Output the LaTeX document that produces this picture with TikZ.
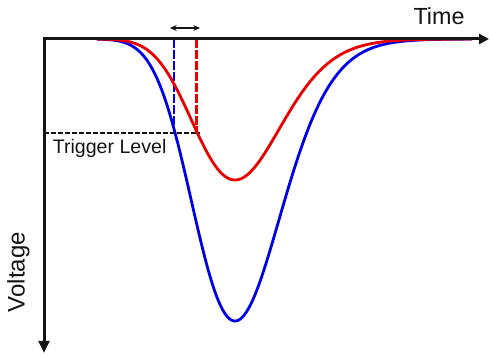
\documentclass[tikz,border=0pt]{standalone}
\usepackage{fontspec}
\setmainfont{Liberation Sans}
\usetikzlibrary{arrows.meta}
\definecolor{pulsered}{RGB}{232,0,0}
\definecolor{pulseblue}{RGB}{0,0,232}
\definecolor{ink}{RGB}{20,20,20}

\begin{document}
\begin{tikzpicture}[x=0.75pt, y=-0.75pt, line join=round,
    declare function={sig(\u)=0.44+0.06*\u;
                      pulse(\u,\a)=\a*exp(-(\u*\u)/(2*sig(\u)*sig(\u)));},
    axis/.style={ink, line width=2.25pt, line join=miter},
    curve/.style={line width=2.1pt},
    marker/.style={line width=2.2pt, dash pattern=on 7pt off 1.2pt},
    label/.style={ink, inner sep=0pt}]

  %========= geometry parameters (pixels) =========
  \def\ox{44}     \def\oy{39}      % corner of the axes
  \def\xend{489}  \def\yend{353}   % arrow tips
  \def\xc{235}                     % centre of both pulses
  \def\ytrig{133}                  % trigger level
  \def\xblue{174} \def\xred{196.5} % trigger crossings

  \useasboundingbox (0,0) rectangle (490,356);

  %========= trigger level =========
  \coordinate (trigstart) at (\ox,\ytrig);
  \coordinate (trigend) at (200,\ytrig);
  \draw[ink, line width=1.5pt, dash pattern=on 3.75pt off 1.5pt] (trigstart) -- (trigend);

  %========= crossing markers =========
  \coordinate (bluetop) at (\xblue,\oy);
  \coordinate (bluebot) at (\xblue,\ytrig);
  \coordinate (redtop) at (\xred,\oy);
  \coordinate (redbot) at (\xred,\ytrig);
  \draw[marker, pulseblue] (bluetop) -- (bluebot);
  \draw[marker, pulsered] (redtop) -- (redbot);

  %========= pulses =========
  \draw[curve, pulseblue] plot[domain=97:472, samples=180, smooth]
        (\x, {\oy+pulse((\x-\xc)/100, 282)});
  \draw[curve, pulsered] plot[domain=97:472, samples=180, smooth]
        (\x, {\oy+pulse((\x-\xc)/100, 141)});

  %========= axes =========
  \coordinate (origin) at (\ox,\oy);
  \coordinate (timeend) at (\xend,\oy);
  \coordinate (voltend) at (\ox,\yend);
  \draw[axis, {Triangle[length=9pt, width=8pt]}-{Triangle[length=7.5pt, width=7.5pt]}]
        (voltend) -- (origin) -- (timeend);

  %========= delay arrow =========
  \coordinate (delayl) at (170,28);
  \coordinate (delayr) at (200,28);
  \draw[ink, line width=1.1pt, {Stealth[length=5pt, width=4.5pt]}-{Stealth[length=5pt, width=4.5pt]}]
        (delayl) -- (delayr);

  %========= labels =========
  \node[label, font=\fontsize{17.5}{20}\selectfont] (timelabel) at (439,16.5) {Time};
  \node[label, font=\fontsize{18}{21}\selectfont, rotate=90] (voltlabel) at (18.5,272) {Voltage};
  \node[label, font=\fontsize{14.7}{17}\selectfont, anchor=base west] (triglabel) at (52.5,154) {Trigger Level};
\end{tikzpicture}
\end{document}
